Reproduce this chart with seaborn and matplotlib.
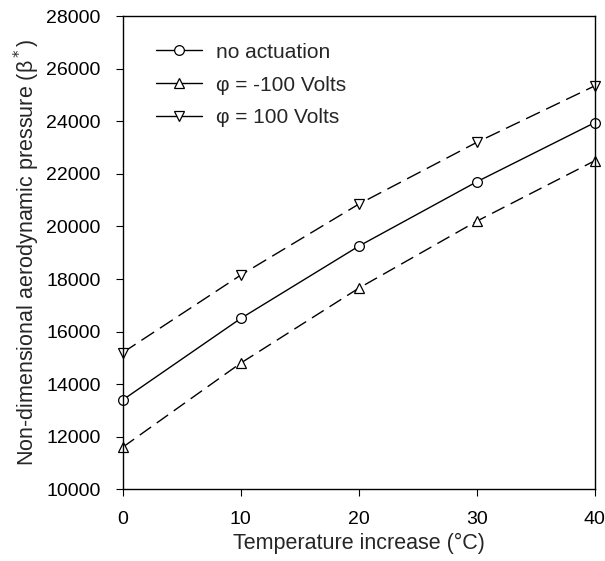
import matplotlib
matplotlib.use("Agg")
import matplotlib.pyplot as plt
import pandas as pd
import seaborn as sns

temp = [0, 10, 20, 30, 40]
no_act = [13400, 16500, 19250, 21700, 23950]
minus100 = [11600, 14800, 17650, 20200, 22500]
plus100 = [15200, 18150, 20850, 23200, 25350]
labels = ["no actuation", "\u03c6 = -100 Volts", "\u03c6 = 100 Volts"]

df = pd.DataFrame({"T": temp * 3,
                   "beta": no_act + minus100 + plus100,
                   "case": [labels[0]] * 5 + [labels[1]] * 5 + [labels[2]] * 5})

sns.set_style("ticks")
plt.rcParams["font.family"] = ["Liberation Sans", "DejaVu Sans"]

fig = plt.figure(figsize=(6.05, 5.61), dpi=100)
ax = fig.add_axes([0.203, 0.128, 0.78, 0.843])

styles = {labels[0]: ("-", "o"), labels[1]: ((0, (10, 5)), "^"), labels[2]: ((0, (11, 5)), "v")}
for lab in labels:
    ls, mk = styles[lab]
    sns.lineplot(data=df[df["case"] == lab], x="T", y="beta", ax=ax, color="black",
                 linestyle=ls, marker=mk, markersize=7, markerfacecolor="white",
                 markeredgecolor="black", markeredgewidth=0.9, linewidth=1.0, label=lab,
                 clip_on=False)

ax.set_xlim(0, 40)
ax.set_ylim(10000, 28000)
ax.set_xticks([0, 10, 20, 30, 40])
ax.set_yticks(range(10000, 28001, 2000))
ax.tick_params(direction="out", length=5, labelsize=14, colors="black", pad=11)
ax.set_xlabel("Temperature increase (\u00b0C)", fontsize=15.5, labelpad=3)
ax.set_ylabel("Non-dimensional aerodynamic pressure (\u03b2$^*$)", fontsize=15.5, labelpad=3)
for s in ax.spines.values():
    s.set_color("black")
    s.set_linewidth(1.0)

leg = ax.legend(loc="upper left", bbox_to_anchor=(0.052, 0.962), frameon=False, fontsize=15,
                handlelength=2.2, handletextpad=0.7, labelspacing=0.67, borderaxespad=0)
for h in leg.get_lines():
    h.set_linestyle("-")

fig.savefig("out.png", dpi=100)
